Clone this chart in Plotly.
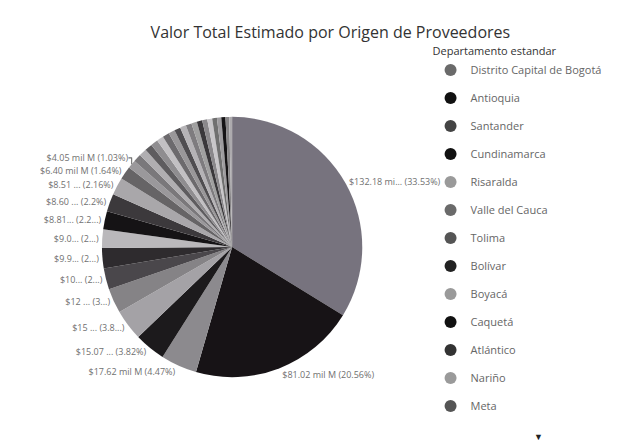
import plotly.graph_objects as go

# Valores en mil M (ordenados de mayor a menor, como en Power BI)
departamentos = [
    'Distrito Capital de Bogotá', 'Antioquia', 'Santander', 'Cundinamarca', 'Risaralda',
    'Valle del Cauca', 'Tolima', 'Bolívar', 'Boyacá', 'Caquetá', 'Atlántico', 'Nariño',
    'Meta', 'Huila', 'Cauca', 'Córdoba', 'Magdalena', 'Cesar', 'Norte de Santander',
    'Caldas', 'Quindío', 'Sucre', 'La Guajira', 'Casanare', 'Chocó', 'Putumayo',
    'Arauca', 'Amazonas', 'San Andrés', 'Guaviare', 'Vichada', 'Vaupés', 'Guainía',
]
valores = [
    132.18, 81.02, 17.62, 15.07, 15.0, 12.1, 10.2, 9.85, 9.05, 8.81, 8.60, 8.51,
    6.40, 4.05, 3.9, 3.7, 3.6, 3.5, 3.3, 3.25, 3.1, 3.0, 2.9, 2.85, 2.7, 2.6,
    2.5, 2.4, 2.3, 2.1, 2.0, 1.8, 1.4,
]
etiquetas = [
    '$132.18 mi... (33.53%)', '$81.02 mil M (20.56%)', '$17.62 mil M (4.47%)',
    '$15.07 ... (3.82%)', '$15 ... (3.8...)', '$12 ... (3...)', '$10... (2...)',
    '$9.9... (2...)', '$9.0... (2...)', '$8.81... (2.2...)', '$8.60 ... (2.2%)',
    '$8.51 ... (2.16%)', '$6.40 mil M (1.64%)', '$4.05 mil M (1.03%)',
] + [''] * 19
colores = [
    '#77737e', '#171316', '#8c8a8e', '#1c1a1c', '#a4a2a6', '#858386', '#4a474b',
    '#2e2b2e', '#bab8bb', '#151315', '#3c393c', '#a9a7aa', '#666466', '#9a989b',
    '#7a787b', '#b0aeb1', '#5e5c5f', '#8f8d90', '#c2c0c3', '#6c6a6d', '#999799',
    '#4f4d50', '#b5b3b6', '#7e7c7f', '#a0a0a0', '#3a383b', '#8a888b', '#c8c6c9',
    '#707070', '#9e9c9f', '#151315', '#888688', '#adabae',
]
legend_colores = [
    '#6a6a6a', '#111111', '#444444', '#111111', '#9a9a9a', '#6a6a6a', '#555555',
    '#222222', '#9a9a9a', '#111111', '#333333', '#9a9a9a', '#555555',
]

fig = go.Figure()

fig.add_trace(go.Pie(
    labels=departamentos,
    values=valores,
    text=etiquetas,
    textinfo='text',
    textposition='outside',
    textfont=dict(size=9, color='#707070'),
    sort=False,
    direction='clockwise',
    rotation=0,
    marker=dict(colors=colores, line=dict(width=0)),
    showlegend=False,
    domain=dict(x=[0.150, 0.566], y=[0.176, 0.757]),
    hoverinfo='label+value+percent',
))

# leyenda con círculos, como en Power BI (solo los elementos visibles)
for nombre, color in zip(departamentos[:13], legend_colores):
    fig.add_trace(go.Scatter(
        x=[None], y=[None], mode='markers', name=nombre, legendgroup=nombre,
        marker=dict(symbol='circle', size=8, color=color),
    ))

fig.update_layout(
    width=626, height=448,
    margin=dict(l=0, r=0, t=0, b=0),
    paper_bgcolor='white', plot_bgcolor='white',
    font=dict(family='Segoe UI, Open Sans, sans-serif', color='#555555'),
    title=dict(text='Valor Total Estimado por Origen de Proveedores',
               x=0.515, xanchor='center', y=0.945, yanchor='middle',
               font=dict(size=16, color='#333333')),
    xaxis=dict(visible=False), yaxis=dict(visible=False),
    legend=dict(
        title=dict(text='Departamento estandar', font=dict(size=11, color='#333333')),
        x=0.675, xanchor='left', y=0.926, yanchor='top',
        font=dict(size=11, color='#666666'),
        itemsizing='constant', tracegroupgap=9, itemwidth=30,
        bgcolor='rgba(0,0,0,0)',
    ),
    annotations=[dict(text='▼', x=0.858, y=0.025, xref='paper', yref='paper',
                      showarrow=False, font=dict(size=9, color='#222222'))],
)

fig.write_html('out.html')
